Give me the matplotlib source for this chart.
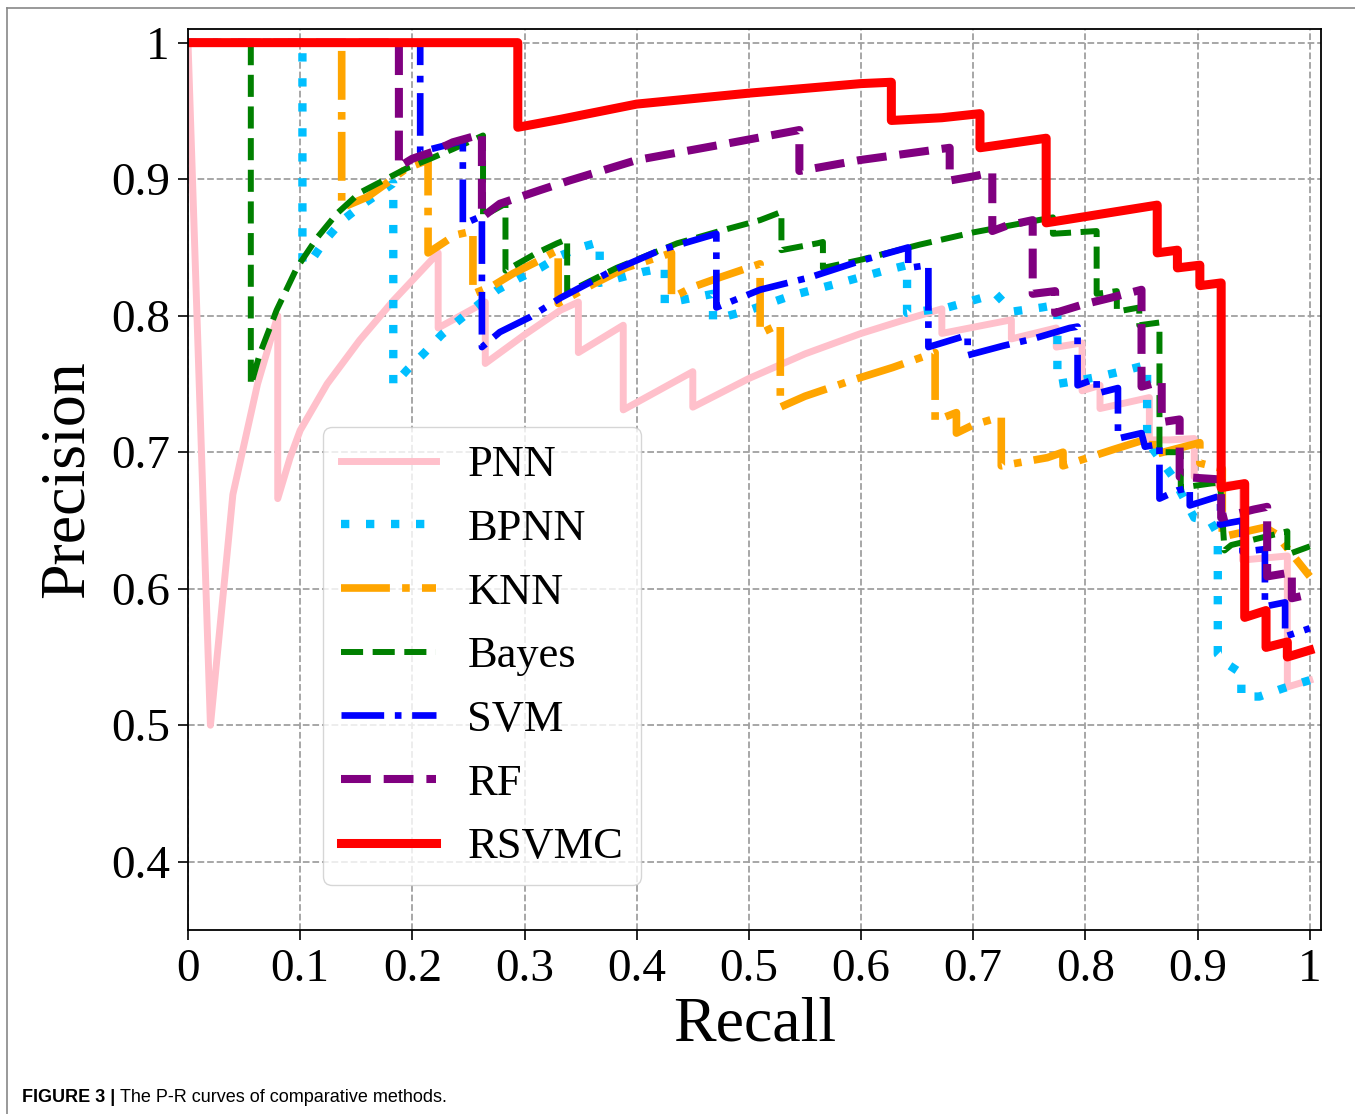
import matplotlib
matplotlib.use("Agg")
import matplotlib.pyplot as plt
from matplotlib.lines import Line2D

plt.rcParams['font.family'] = ['Liberation Serif', 'DejaVu Serif']

# ---------------- data ----------------
methods = ["PNN", "BPNN", "KNN", "Bayes", "SVM", "RF", "RSVMC"]

pnn_r = [0, 0.02, 0.04, 0.062, 0.080, 0.080, 0.091, 0.10, 0.124, 0.153, 0.183, 0.223, 0.223, 0.265, 0.265,
         0.30, 0.332, 0.348, 0.348, 0.388, 0.388, 0.45, 0.45, 0.50, 0.55, 0.60, 0.635, 0.672, 0.672, 0.734,
         0.734, 0.774, 0.774, 0.797, 0.797, 0.813, 0.813, 0.857, 0.857, 0.875, 0.897, 0.897, 0.92, 0.94,
         0.94, 0.98, 0.98, 1.0]
pnn_p = [1.0, 0.50, 0.669, 0.75, 0.80, 0.666, 0.696, 0.716, 0.75, 0.782, 0.811, 0.846, 0.791, 0.81, 0.765,
         0.786, 0.804, 0.81, 0.773, 0.793, 0.731, 0.759, 0.733, 0.754, 0.772, 0.787, 0.796, 0.805, 0.787, 0.797,
         0.783, 0.791, 0.777, 0.78, 0.745, 0.749, 0.732, 0.74, 0.709, 0.709, 0.71, 0.682, 0.676, 0.677,
         0.621, 0.624, 0.528, 0.533]

bpnn_r = [0, 0.102, 0.102, 0.112, 0.122, 0.138, 0.155, 0.171, 0.183, 0.183, 0.195, 0.211, 0.226, 0.242, 0.26,
          0.276, 0.294, 0.314, 0.332, 0.35, 0.367, 0.367, 0.405, 0.425, 0.425, 0.468, 0.468, 0.50, 0.539, 0.581,
          0.621, 0.641, 0.641, 0.66, 0.677, 0.699, 0.72, 0.735, 0.761, 0.775, 0.775, 0.79, 0.81, 0.831, 0.855,
          0.855, 0.877, 0.897, 0.911, 0.918, 0.918, 0.928, 0.939, 0.939, 0.955, 0.976, 1.0]
bpnn_p = [1.0, 1.0, 0.838, 0.843, 0.855, 0.87, 0.881, 0.89, 0.897, 0.749, 0.76, 0.773, 0.786, 0.797, 0.809,
          0.819, 0.827, 0.835, 0.844, 0.85, 0.854, 0.824, 0.832, 0.835, 0.809, 0.816, 0.797, 0.804, 0.815, 0.824,
          0.833, 0.837, 0.802, 0.804, 0.806, 0.811, 0.816, 0.803, 0.806, 0.808, 0.75, 0.752, 0.755, 0.759, 0.764,
          0.708, 0.683, 0.652, 0.65, 0.64, 0.552, 0.544, 0.538, 0.521, 0.521, 0.527, 0.533]

knn_r = [0, 0.137, 0.137, 0.16, 0.177, 0.195, 0.214, 0.214, 0.238, 0.254, 0.254, 0.272, 0.29, 0.312, 0.325,
         0.33, 0.33, 0.361, 0.39, 0.42, 0.431, 0.431, 0.45, 0.474, 0.51, 0.51, 0.528, 0.528, 0.55, 0.593, 0.628,
         0.666, 0.666, 0.685, 0.685, 0.70, 0.725, 0.725, 0.766, 0.78, 0.78, 0.825, 0.86, 0.86, 0.902, 0.902,
         0.922, 0.922, 0.96, 0.97, 1.0]
knn_p = [1.0, 1.0, 0.879, 0.887, 0.897, 0.908, 0.914, 0.846, 0.859, 0.862, 0.816, 0.822, 0.831, 0.84, 0.846,
         0.848, 0.809, 0.823, 0.835, 0.843, 0.846, 0.813, 0.821, 0.828, 0.838, 0.787, 0.794, 0.733, 0.741, 0.753,
         0.762, 0.773, 0.723, 0.729, 0.714, 0.72, 0.726, 0.69, 0.696, 0.70, 0.69, 0.702, 0.711, 0.698, 0.707,
         0.692, 0.688, 0.638, 0.645, 0.64, 0.609]

bayes_r = [0, 0.056, 0.056, 0.064, 0.079, 0.097, 0.115, 0.133, 0.153, 0.174, 0.195, 0.216, 0.236, 0.263, 0.263,
           0.283, 0.283, 0.296, 0.311, 0.329, 0.338, 0.338, 0.382, 0.436, 0.474, 0.51, 0.529, 0.529, 0.561,
           0.566, 0.566, 0.60, 0.652, 0.70, 0.771, 0.771, 0.81, 0.81, 0.828, 0.828, 0.848, 0.848, 0.866, 0.866,
           0.885, 0.885, 0.92, 0.924, 0.93, 0.98, 0.98, 1.0]
bayes_p = [1.0, 1.0, 0.749, 0.772, 0.804, 0.835, 0.857, 0.875, 0.89, 0.899, 0.908, 0.915, 0.922, 0.932, 0.873,
           0.882, 0.833, 0.839, 0.846, 0.853, 0.856, 0.817, 0.835, 0.853, 0.862, 0.87, 0.876, 0.848, 0.853,
           0.854, 0.835, 0.841, 0.852, 0.861, 0.872, 0.86, 0.862, 0.816, 0.818, 0.803, 0.806, 0.793, 0.795, 0.70,
           0.70, 0.674, 0.678, 0.628, 0.632, 0.642, 0.625, 0.631]

svm_r = [0, 0.207, 0.207, 0.245, 0.245, 0.262, 0.262, 0.278, 0.305, 0.332, 0.376, 0.421, 0.471, 0.471, 0.51,
         0.554, 0.599, 0.642, 0.642, 0.66, 0.66, 0.688, 0.695, 0.695, 0.727, 0.753, 0.786, 0.793, 0.793, 0.81,
         0.81, 0.829, 0.829, 0.85, 0.853, 0.866, 0.866, 0.882, 0.893, 0.893, 0.92, 0.92, 0.94, 0.94, 0.96,
         0.96, 0.978, 0.978, 1.0]
svm_p = [1.0, 1.0, 0.92, 0.928, 0.867, 0.873, 0.777, 0.788, 0.799, 0.813, 0.832, 0.848, 0.86, 0.806, 0.819,
         0.828, 0.84, 0.85, 0.835, 0.837, 0.777, 0.784, 0.786, 0.771, 0.778, 0.783, 0.791, 0.792, 0.749, 0.754,
         0.743, 0.747, 0.71, 0.714, 0.704, 0.706, 0.666, 0.672, 0.674, 0.661, 0.668, 0.647, 0.65, 0.627, 0.629,
         0.587, 0.59, 0.565, 0.571]

rf_r = [0, 0.188, 0.188, 0.20, 0.218, 0.236, 0.262, 0.262, 0.278, 0.314, 0.34, 0.40, 0.48, 0.545, 0.545, 0.599,
        0.679, 0.679, 0.70, 0.717, 0.717, 0.73, 0.753, 0.753, 0.773, 0.773, 0.797, 0.822, 0.85, 0.85, 0.868,
        0.868, 0.884, 0.884, 0.921, 0.921, 0.95, 0.962, 0.962, 0.984, 0.984, 1.0]
rf_p = [1.0, 1.0, 0.909, 0.915, 0.92, 0.927, 0.933, 0.872, 0.882, 0.892, 0.899, 0.914, 0.926, 0.936, 0.906, 0.914,
        0.923, 0.899, 0.902, 0.905, 0.862, 0.866, 0.87, 0.816, 0.818, 0.802, 0.808, 0.813, 0.819, 0.748, 0.752,
        0.722, 0.724, 0.682, 0.68, 0.652, 0.658, 0.66, 0.609, 0.612, 0.593, 0.596]

rsvmc_r = [0, 0.294, 0.294, 0.333, 0.40, 0.50, 0.60, 0.627, 0.627, 0.672, 0.706, 0.706, 0.765, 0.765, 0.864,
           0.864, 0.882, 0.882, 0.902, 0.902, 0.921, 0.921, 0.942, 0.942, 0.961, 0.961, 0.98, 0.98, 1.0]
rsvmc_p = [1.0, 1.0, 0.938, 0.944, 0.955, 0.963, 0.970, 0.971, 0.943, 0.945, 0.948, 0.923, 0.930, 0.868, 0.881,
           0.846, 0.848, 0.835, 0.837, 0.822, 0.824, 0.674, 0.677, 0.579, 0.584, 0.557, 0.561, 0.550, 0.555]

x_ticks = [0, 0.1, 0.2, 0.3, 0.4, 0.5, 0.6, 0.7, 0.8, 0.9, 1.0]
x_tick_labels = ["0", "0.1", "0.2", "0.3", "0.4", "0.5", "0.6", "0.7", "0.8", "0.9", "1"]
y_ticks = [0.4, 0.5, 0.6, 0.7, 0.8, 0.9, 1.0]
y_tick_labels = ["0.4", "0.5", "0.6", "0.7", "0.8", "0.9", "1"]

# ---------------- figure ----------------
fig = plt.figure(figsize=(13.55, 11.14), dpi=100)
ax = fig.add_axes([188 / 1355, (1114 - 930) / 1114, (1321 - 188) / 1355, (930 - 29) / 1114])

series = [
    (pnn_r, pnn_p, dict(color="pink", lw=5, ls="-")),
    (bpnn_r, bpnn_p, dict(color="deepskyblue", lw=6, ls=(0, (1, 2.0)))),
    (knn_r, knn_p, dict(color="orange", lw=5.5, ls="-.")),
    (bayes_r, bayes_p, dict(color="green", lw=4.3, ls="--")),
    (svm_r, svm_p, dict(color="blue", lw=4.8, ls="-.")),
    (rf_r, rf_p, dict(color="purple", lw=5.8, ls="--")),
    (rsvmc_r, rsvmc_p, dict(color="red", lw=6.5, ls="-")),
]
for name, (r, p, st) in zip(methods, series):
    ax.plot(r, p, label=name, **st)

ax.set_xlim(0, 1.01)
ax.set_ylim(0.35, 1.01)
ax.set_xticks(x_ticks)
ax.set_xticklabels(x_tick_labels)
ax.set_yticks(y_ticks)
ax.set_yticklabels(y_tick_labels)
ax.tick_params(labelsize=34, length=7, width=1.2, direction="out", pad=6)
ax.grid(True, ls="--", color="#a0a0a0", lw=1.3)
for s in ax.spines.values():
    s.set_linewidth(1.3)

ax.set_xlabel("Recall", fontsize=46, labelpad=4)
ax.set_ylabel("Precision", fontsize=46, labelpad=10)

leg = ax.legend(loc="lower left", bbox_to_anchor=(0.119, 0.05), borderaxespad=0,
                fontsize=32, handlelength=2.15, handletextpad=0.7, labelspacing=0.53)

# figure frame lines (journal panel border)
fig.add_artist(Line2D([7 / 1355, 7 / 1355], [0, 1 - 8 / 1114], transform=fig.transFigure,
                      color="#888888", lw=1.2))
fig.add_artist(Line2D([7 / 1355, 1], [1 - 8 / 1114, 1 - 8 / 1114], transform=fig.transFigure,
                      color="#888888", lw=1.2))

# caption
cap_family = ['Liberation Sans Narrow', 'Liberation Sans', 'DejaVu Sans']
t1 = fig.text(22 / 1355, 1 - 1102 / 1114, "FIGURE 3 |", fontsize=13, fontweight="bold",
              family=cap_family, va="baseline", ha="left")
fig.canvas.draw()
bb = t1.get_window_extent()
fig.text((bb.x1 + 5) / 1355, 1 - 1102 / 1114, "The P-R curves of comparative methods.", fontsize=13,
         family=cap_family, va="baseline", ha="left")

fig.savefig("out.png", dpi=100)
